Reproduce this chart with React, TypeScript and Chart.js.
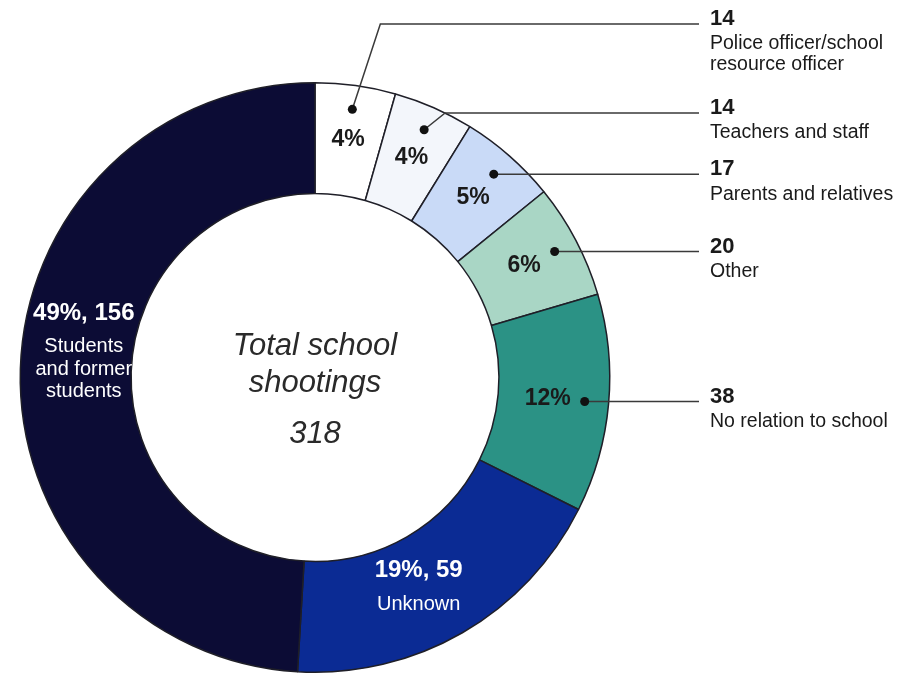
import { useEffect, useRef } from 'react';
import { Chart, registerables } from 'chart.js';

Chart.register(...registerables);

const categories = [
  'Police officer/school resource officer',
  'Teachers and staff',
  'Parents and relatives',
  'Other',
  'No relation to school',
  'Unknown',
  'Students and former students',
];
const counts = [14, 14, 17, 20, 38, 59, 156];
const percentLabels = ['4%', '4%', '5%', '6%', '12%', '19%', '49%'];
const descriptionLines = [
  ['Police officer/school', 'resource officer'],
  ['Teachers and staff'],
  ['Parents and relatives'],
  ['Other'],
  ['No relation to school'],
  ['Unknown'],
  ['Students', 'and former', 'students'],
];
const centerLines = ['Total school', 'shootings', '318'];
const sliceColors = ['#ffffff', '#f3f6fb', '#c9daf7', '#a9d6c5', '#2b9285', '#0b2b94', '#0c0c35'];

const FONT = '"Liberation Sans", Arial, Helvetica, sans-serif';

// layout of callouts (annotation geometry, not data)
const CALLOUT_COUNT = 5;
const calloutElbows: ({ dx: number; y: number } | null)[] = [
  { dx: 28, y: 24 },
  { dx: 21, y: 113 },
  null,
  null,
  null,
];
const LINE_END_X = 699;
const TEXT_X = 710;
const insideOffsets: Record<number, { dx: number; dy: number }> = {
  5: { dx: -16, dy: -14 },
  6: { dx: 8, dy: -57 },
};

export default function App() {
  const ref = useRef<HTMLCanvasElement>(null);

  useEffect(() => {
    const canvas = ref.current!;
    const annot = {
      id: 'annot',
      afterDatasetsDraw(chart: any) {
        const ctx: CanvasRenderingContext2D = chart.ctx;
        const meta = chart.getDatasetMeta(0);
        ctx.save();
        const first = meta.data[0];
        const cx = first.x;
        const cy = first.y;

        // center text
        ctx.fillStyle = '#2a2a2a';
        ctx.textAlign = 'center';
        ctx.textBaseline = 'alphabetic';
        ctx.font = `italic 31px ${FONT}`;
        const centerOffsets = [-22.5, 14.5, 65.5];
        centerLines.forEach((t, i) => ctx.fillText(t, cx, cy + centerOffsets[i]));

        // small slices with callouts
        for (let i = 0; i < CALLOUT_COUNT; i++) {
          const arc = meta.data[i];
          const mid = (arc.startAngle + arc.endAngle) / 2;
          const ringMid = (arc.innerRadius + arc.outerRadius) / 2;
          const dotR = arc.outerRadius - 24;
          const dotX = cx + dotR * Math.cos(mid);
          const dotY = cy + dotR * Math.sin(mid);
          let tx = cx + ringMid * Math.cos(mid);
          const ty = cy + ringMid * Math.sin(mid) - 1.5;

          ctx.font = `bold 23px ${FONT}`;
          const w = ctx.measureText(percentLabels[i]).width;
          if (Math.abs(dotY - ty) < 15 && tx + w / 2 > dotX - 14) {
            tx = dotX - 14 - w / 2;
          }
          ctx.fillStyle = '#1a1a1a';
          ctx.textAlign = 'center';
          ctx.textBaseline = 'middle';
          ctx.fillText(percentLabels[i], tx, ty + 1);

          // leader line
          const elbow = calloutElbows[i];
          const lineY = elbow ? elbow.y : dotY;
          ctx.strokeStyle = '#3a3a3a';
          ctx.lineWidth = 1.5;
          ctx.beginPath();
          ctx.moveTo(dotX, dotY);
          if (elbow) ctx.lineTo(dotX + elbow.dx, elbow.y);
          ctx.lineTo(LINE_END_X, lineY);
          ctx.stroke();

          ctx.fillStyle = '#111111';
          ctx.beginPath();
          ctx.arc(dotX, dotY, 4.5, 0, Math.PI * 2);
          ctx.fill();

          // right side labels
          ctx.textAlign = 'left';
          ctx.textBaseline = 'middle';
          ctx.fillStyle = '#1a1a1a';
          ctx.font = `bold 22px ${FONT}`;
          ctx.fillText(String(counts[i]), TEXT_X, lineY - 5);
          ctx.font = `19.5px ${FONT}`;
          descriptionLines[i].forEach((t, j) => ctx.fillText(t, TEXT_X, lineY + 20 + j * 20.5));
        }

        // large slices with inside labels
        for (let i = CALLOUT_COUNT; i < counts.length; i++) {
          const arc = meta.data[i];
          const mid = (arc.startAngle + arc.endAngle) / 2;
          const ringMid = (arc.innerRadius + arc.outerRadius) / 2;
          const off = insideOffsets[i] || { dx: 0, dy: 0 };
          const x = cx + ringMid * Math.cos(mid) + off.dx;
          const y = cy + ringMid * Math.sin(mid) + off.dy;
          ctx.fillStyle = '#ffffff';
          ctx.textAlign = 'center';
          ctx.textBaseline = 'middle';
          ctx.font = `bold 24px ${FONT}`;
          ctx.fillText(`${percentLabels[i]}, ${counts[i]}`, x, y);
          ctx.font = `20px ${FONT}`;
          descriptionLines[i].forEach((t, j) => ctx.fillText(t, x, y + 33.5 + j * 22.5));
        }
        ctx.restore();
      },
    };

    const chart = new Chart(canvas, {
      type: 'doughnut',
      data: {
        labels: categories,
        datasets: [
          {
            data: counts,
            backgroundColor: sliceColors,
            borderColor: '#1f1f28',
            borderWidth: 1.5,
          },
        ],
      },
      options: {
        responsive: false,
        animation: false,
        cutout: '62.4%',
        layout: { padding: { left: 19.5, right: 304.5, top: 82, bottom: 2 } },
        plugins: { legend: { display: false }, tooltip: { enabled: false } },
      },
      plugins: [annot],
    });
    return () => chart.destroy();
  }, []);

  return (
    <div style={{ position: 'absolute', left: 0, top: 0, width: 915, height: 675, background: '#ffffff' }}>
      <canvas ref={ref} width={915} height={675} style={{ display: 'block' }} />
    </div>
  );
}
